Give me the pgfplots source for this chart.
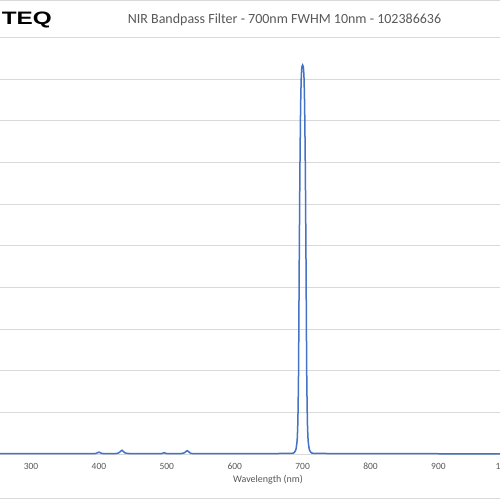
\documentclass[border=0pt]{standalone}
\usepackage{pgfplots}
\pgfplotsset{compat=1.18}
\usepackage{fontspec}
\setmainfont{Carlito}
\definecolor{txt}{HTML}{595959}
\definecolor{grd}{HTML}{D9D9D9}
\definecolor{ser}{HTML}{4472C4}
\begin{document}
\begin{tikzpicture}
\useasboundingbox (0pt,0pt) rectangle (500pt,500pt);
\clip (0pt,0pt) rectangle (500pt,500pt);
\fill[white] (0pt,0pt) rectangle (500pt,500pt);
\draw[grd, line width=1pt] (0pt,499.4pt) -- (500pt,499.4pt);
\draw[grd, line width=1pt] (0pt,1pt) -- (500pt,1pt);
\begin{axis}[
  at={(0pt,46pt)}, anchor=south west,
  scale only axis, width=519.9pt, height=416.4pt,
  xmin=254.3, xmax=1020, ymin=0, ymax=100,
  xtick={300,400,500,600,700,800,900,1000},
  ytick={0,10,...,100}, yticklabels={},
  ymajorgrids, grid style={grd, line width=0.8pt},
  axis line style={draw=none},
  major tick length=0pt,
  tick label style={font=\fontsize{9.5}{11}\selectfont, text=txt},
  /pgf/number format/assume math mode=true,
  xticklabel style={anchor=base, yshift=-15pt},
  clip=false,
]
\addplot[ser, line width=1.5pt, smooth, tension=0.4] coordinates {
(254,0.1) (280,0.1) (300,0.1) (350,0.1) (390,0.1) (396,0.15) (400,0.45) (404,0.15) (410,0.1)
(425,0.1) (430,0.35) (434,0.9) (438,0.3) (445,0.1) (480,0.1) (492,0.1) (496,0.3) (500,0.1)
(520,0.1) (526,0.3) (530,0.8) (534,0.3) (540,0.1) (600,0.1) (650,0.1) (680,0.15) (686,0.2)
(688,0.4) (690,1) (691,2) (692,3.5) (693,8) (694,20) (695,46) (696,68) (697,83) (698,90.5)
(699,93) (700,93.4) (701,93) (702,90.5) (703,83) (704,68) (705,46) (706,20) (707,8)
(708,3.5) (709,2) (710,1) (712,0.4) (714,0.2) (720,0.15) (750,0.1) (800,0.1) (850,0.08)
(900,0.06) (950,0.05) (1000,0.05) (1020,0.05)
};
\end{axis}
\node[anchor=base, text=txt, font=\fontsize{14}{16}\selectfont] at (284.5pt,476pt) {NIR Bandpass Filter - 700nm FWHM 10nm - 102386636};
\node[anchor=base, text=txt, font=\fontsize{10}{12}\selectfont] at (268pt,17pt) {Wavelength (nm)};
\node[anchor=base east, inner sep=0pt, font=\fontspec{Liberation Sans}\bfseries\fontsize{18}{20}\selectfont, xscale=1.35] at (52pt,475pt) {TEQ};
\end{tikzpicture}
\end{document}
